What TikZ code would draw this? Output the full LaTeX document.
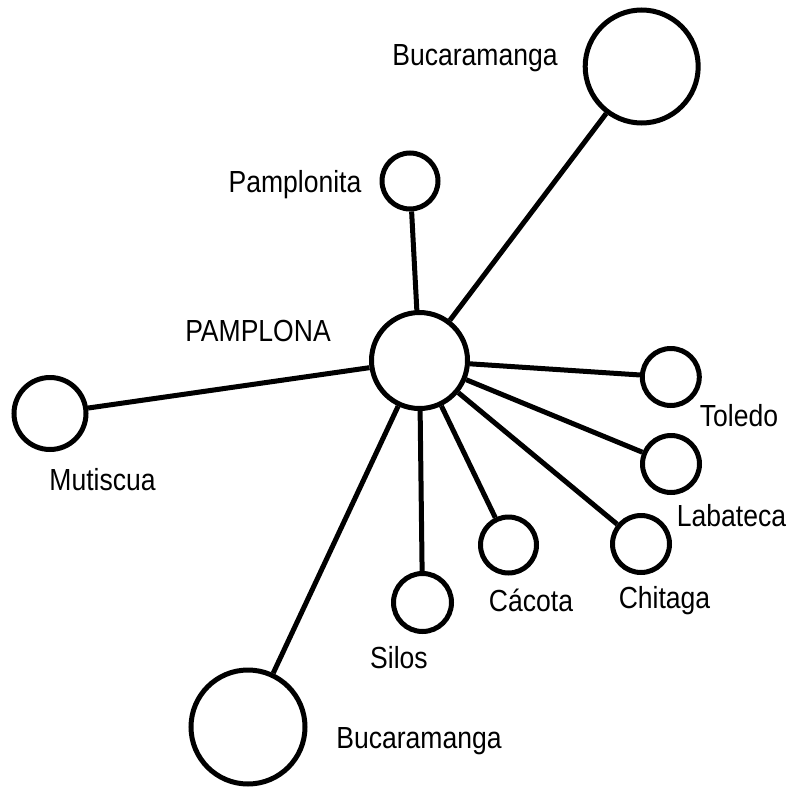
\documentclass[tikz,border=0pt]{standalone}
\usepackage{fontspec}
\setmainfont{Liberation Sans}[FakeStretch=0.87]
\begin{document}
\begin{tikzpicture}[x=1pt,y=-1pt,
  town/.style={circle,draw=black,line width=5pt,inner sep=0pt,fill=white},
  lbl/.style={anchor=base,inner sep=0pt,font=\fontsize{30.5}{30.5}\selectfont},
  link/.style={line width=5pt}]
\useasboundingbox (0,0) rectangle (793,787);
\node[town,minimum size=96pt] (pam) at (419.5,360.5) {};
\node[town,minimum size=113pt] (bucT) at (641.7,66.5) {};
\node[town,minimum size=56pt] (plt) at (410,181) {};
\node[town,minimum size=72pt] (mut) at (50,413.5) {};
\node[town,minimum size=57pt] (tol) at (670.8,377) {};
\node[town,minimum size=57pt] (lab) at (671,464) {};
\node[town,minimum size=57pt] (chi) at (641,544) {};
\node[town,minimum size=56pt] (cac) at (508.5,545) {};
\node[town,minimum size=58pt] (sil) at (422.5,602.5) {};
\node[town,minimum size=114pt] (bucB) at (248,727) {};
\foreach \t in {bucT,plt,mut,tol,lab,chi,cac,sil,bucB}
  \draw[link] (pam) -- (\t);
\node[lbl] (lbucT) at (475,65) {Bucaramanga};
\node[lbl] (lplt) at (295,192) {Pamplonita};
\node[lbl] (lpam) at (258,341) {PAMPLONA};
\node[lbl] (lmut) at (102.5,490) {Mutiscua};
\node[lbl] (ltol) at (739,426.7) {Toledo};
\node[lbl] (llab) at (731.5,526.7) {Labateca};
\node[lbl] (lchi) at (664.5,608) {Chitaga};
\node[lbl] (lcac) at (531,611) {Cácota};
\node[lbl] (lsil) at (399,668) {Silos};
\node[lbl] (lbucB) at (419,748) {Bucaramanga};
\end{tikzpicture}
\end{document}
